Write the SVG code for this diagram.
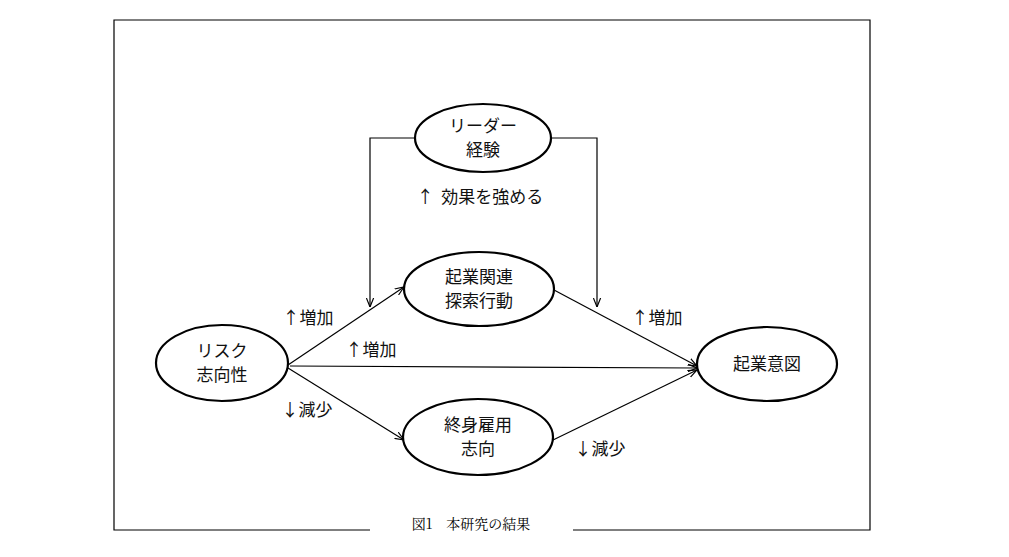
<svg xmlns="http://www.w3.org/2000/svg" width="1009" height="557" viewBox="0 0 1009 557">
<defs>
<marker id="ah" viewBox="0 0 10 10" refX="10" refY="5" markerWidth="9" markerHeight="9" orient="auto" markerUnits="userSpaceOnUse">
<path d="M0,1 L10,5 L0,9" fill="none" stroke="#000" stroke-width="1.3"/>
</marker>
<style>
.n{fill:#fff;stroke:#000;stroke-width:2.2}
.t{font-family:"Noto Sans CJK JP",sans-serif;font-size:17px;fill:#111;text-anchor:middle}
.c{stroke:#000;stroke-width:1.2;fill:none;marker-end:url(#ah)}
</style>
</defs>
<rect width="1009" height="557" fill="#fff"/>
<path d="M370,530 H114 V20 H870 V530 H573" fill="none" stroke="#000" stroke-width="1.2"/>
<text x="471" y="529" style="font-family:'Noto Serif CJK JP','Liberation Serif','Noto Sans CJK JP',serif;font-size:14px;text-anchor:middle">図1　本研究の結果</text>
<g id="connectors">
<path class="c" d="M415,138 H370 V307"/>
<path class="c" d="M551,138 H597 V307"/>
<path class="c" d="M288,365 L404,287"/>
<path class="c" d="M554,290 L697,366"/>
<path class="c" d="M290,366 L697,368"/>
<path class="c" d="M288,368 L404,440"/>
<path class="c" d="M553,440 L697,370"/>
</g>
<g id="leader"><ellipse class="n" cx="483" cy="138" rx="68" ry="34"/><text class="t" x="483" y="132">リーダー</text><text class="t" x="483" y="156">経験</text></g>
<g id="explore"><ellipse class="n" cx="479" cy="289" rx="75" ry="37"/><text class="t" x="479" y="283">起業関連</text><text class="t" x="479" y="307">探索行動</text></g>
<g id="risk"><ellipse class="n" cx="222" cy="363" rx="66" ry="38"/><text class="t" x="222" y="357">リスク</text><text class="t" x="222" y="381">志向性</text></g>
<g id="intent"><ellipse class="n" cx="767" cy="364" rx="70" ry="37"/><text class="t" x="767" y="370">起業意図</text></g>
<g id="lifetime"><ellipse class="n" cx="478" cy="437" rx="75" ry="38"/><text class="t" x="478" y="431">終身雇用</text><text class="t" x="478" y="455">志向</text></g>
<g>
<text class="t" x="480" y="203" xml:space="preserve">↑  効果を強める</text>
<text class="t" x="308" y="324">↑増加</text>
<text class="t" x="371" y="356">↑増加</text>
<text class="t" x="307" y="416">↓減少</text>
<text class="t" x="657" y="324">↑増加</text>
<text class="t" x="600" y="455">↓減少</text>
</g>
</svg>
